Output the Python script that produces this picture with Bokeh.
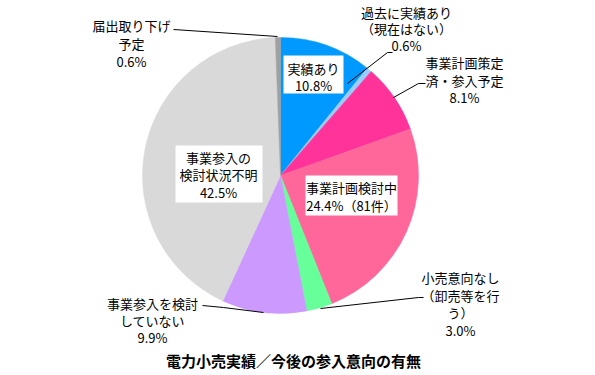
import math
from bokeh.plotting import figure
from bokeh.models import Range1d, ColumnDataSource
from bokeh.core.properties import value
from bokeh.embed import file_html
from bokeh.resources import INLINE

# ---- data ----
categories = ["実績あり", "過去に実績あり（現在はない）", "事業計画策定済・参入予定", "事業計画検討中",
              "小売意向なし（卸売等を行う）", "事業参入を検討していない", "事業参入の検討状況不明", "届出取り下げ予定"]
shares = [10.8, 0.6, 8.1, 24.4, 3.0, 9.9, 42.5, 0.6]
colors = ["#0099FF", "#99CCFF", "#FF3399", "#FF6699", "#66FF99", "#CC99FF", "#D9D9D9", "#A0A0A0"]
label_texts = [
    ["実績あり", "10.8%"],
    ["過去に実績あり", "（現在はない）", "0.6%"],
    ["事業計画策定", "済・参入予定", "8.1%"],
    ["事業計画検討中", "24.4%（81件）"],
    ["小売意向なし", "（卸売等を行", "う）", "3.0%"],
    ["事業参入を検討", "していない", "9.9%"],
    ["事業参入の", "検討状況不明", "42.5%"],
    ["届出取り下げ", "予定", "0.6%"],
]
title = "電力小売実績／今後の参入意向の有無"

FONT = "Noto Sans CJK JP"
W, H = 590, 370
p = figure(width=W, height=H, output_backend="svg", toolbar_location=None,
           x_range=Range1d(0, W), y_range=Range1d(-H, 0),
           min_border=0, outline_line_color=None)
p.axis.visible = False
p.grid.visible = False
p.background_fill_color = "white"

# pie geometry (page pixel coords, y negated)
cx, cy, r = 280, -175, 138
total = sum(shares)
starts, ends = [], []
cum = 0.0
for s in shares:
    a0 = math.pi / 2 - 2 * math.pi * cum / total
    cum += s
    a1 = math.pi / 2 - 2 * math.pi * cum / total
    starts.append(a0)
    ends.append(a1)
src = ColumnDataSource(dict(x=[cx] * len(shares), y=[cy] * len(shares),
                            start=starts, end=ends, color=colors))
p.wedge(x="x", y="y", radius=r, start_angle="start", end_angle="end",
        direction="clock", fill_color="color", line_color="color", line_width=0.5, source=src)

# leader lines (page coords)
leaders = [
    ([347, 387, 392], [83, 52, 52]),
    ([393, 418, 425], [97, 83, 83]),
    ([320, 418, 423], [308, 297, 297]),
    ([263, 223, 202], [312, 307, 305]),
    ([277, 173], [36, 29]),
]
for xs, ys in leaders:
    p.line(xs, [-y for y in ys], line_color="black", line_width=1)

# white label boxes inside pie
boxes = [(283, 55, 343, 93), (175, 145, 262, 202), (305, 175, 397, 215)]
for x0, y0, x1, y1 in boxes:
    p.quad(left=x0, right=x1, top=-y0, bottom=-y1, fill_color="white", line_color=None)

# label positions: (center x, list of line center y)
label_pos = [
    (313, [68, 85]),
    (406, [12, 28, 45]),
    (464, [62, 80, 97]),
    (351, [187, 205]),
    (460, [277, 295, 312, 330]),
    (152, [303, 320, 337]),
    (218, [157, 174, 192]),
    (131, [25, 43, 61]),
]
for lines, (lx, lys) in zip(label_texts, label_pos):
    p.text(x=[lx] * len(lines), y=[-y for y in lys], text=lines,
           text_align="center", text_baseline="middle",
           text_font=value(FONT), text_font_size="13px", text_color="black")

p.text(x=[293], y=[-360], text=[title], text_align="center", text_baseline="middle",
       text_font=value(FONT), text_font_size="15px", text_font_style="bold", text_color="black")

open("out.html", "w").write(file_html(p, INLINE))
